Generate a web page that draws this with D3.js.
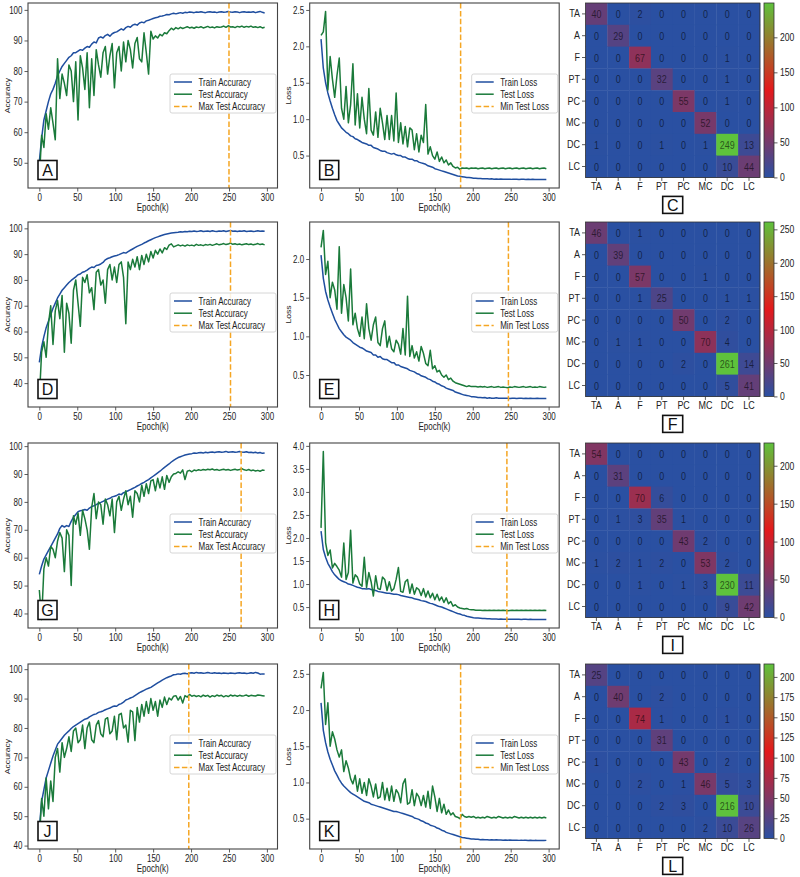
<!DOCTYPE html>
<html>
<head>
<meta charset="utf-8">
<script src="https://cdn.jsdelivr.net/npm/d3@7"></script>
<style>
  html, body { margin: 0; padding: 0; background: #fff; }
  svg { display: block; font-family: "Liberation Sans", Arial, sans-serif; }
</style>
</head>
<body>
<svg id="fig" width="800" height="877"></svg>
<script>
// ---- data (one value every 3 epochs) ----
const CLASSES = ['TA', 'A', 'F', 'PT', 'PC', 'MC', 'DC', 'LC'];
const EPOCH_LAST = 299;
const epochs = d3.range(0, 300, 3);
const X_TICKS = [0, 50, 100, 150, 200, 250, 300];

const maxAccEpoch = [250, 252, 266, 197];
const minLossEpoch = [184, 247, 245, 184];
const accLetters = ['A', 'D', 'G', 'J'];
const lossLetters = ['B', 'E', 'H', 'K'];
const cmLetters = ['C', 'F', 'I', 'L'];
const cbStep = [50, 50, 50, 25];

const acc1Train = [50.5, 58, 64, 67, 70, 72.5, 74, 76, 78.5, 80,
  81.5, 82.5, 83.5, 84.5, 85, 86, 86, 86.5, 87, 86.8,
  87.5, 88, 87.8, 88.8, 89.5, 89.2, 90.8, 91.2, 90.8, 91.6,
  92, 91.4, 92.2, 92.6, 92.8, 93.3, 93.8, 93.4, 94.2, 94.6,
  94.3, 95, 95.3, 95, 95.7, 96, 95.8, 96.4, 96.6, 96.9,
  97.2, 97.4, 97.6, 97.9, 98, 98.2, 98.5, 98.4, 98.7, 98.9,
  98.7, 98.9, 99.1, 98.9, 99.2, 99.1, 99.3, 99.2, 99.1, 99.3,
  99.2, 99.4, 99.2, 99.1, 99.3, 99.4, 99.2, 99.3, 99.1, 99.3,
  99.4, 99.2, 99.3, 99.5, 99.3, 99.2, 99.4, 99.3, 99.1, 99.3,
  99.4, 99.2, 99.3, 99.2, 99.4, 99.1, 99.3, 99.5, 99.2, 99.0];
const acc1Test = [44.5, 59, 55, 66, 61, 68, 63, 57.5, 84, 71,
  79, 76, 72, 82, 80, 70, 83, 64, 85, 81,
  74, 86, 68, 84, 72, 87, 82, 78, 86, 88,
  79, 85, 89, 74.5, 86, 88, 80, 89.5, 83, 90,
  87, 81, 89, 91, 84, 83, 92.5, 86, 79, 93,
  90.5, 91.5, 90.8, 92, 91.5, 92.5, 92.2, 93.2, 94, 93.5,
  94.2, 93.8, 94.3, 93.9, 94.2, 94.5, 94.1, 94.3, 94, 94.4,
  94.2, 94.5, 94.1, 94.3, 94.6, 94.2, 94.4, 94.1, 94.5, 94.3,
  94.4, 94.7, 94.3, 94.8, 94.4, 94.5, 94.2, 94.6, 94.4, 94.7,
  94.3, 94.6, 94.4, 94.7, 94.3, 94.5, 94.2, 94.5, 94.1, 94.3];
const loss1Train = [2.1, 1.7, 1.5, 1.36, 1.25, 1.15, 1.06, 0.98, 0.93, 0.88,
  0.85, 0.82, 0.8, 0.77, 0.76, 0.73, 0.72, 0.7, 0.68, 0.67,
  0.66, 0.64, 0.64, 0.61, 0.6, 0.59, 0.57, 0.56, 0.56, 0.54,
  0.53, 0.52, 0.53, 0.51, 0.5, 0.5, 0.48, 0.48, 0.46, 0.45,
  0.45, 0.43, 0.43, 0.41, 0.4, 0.39, 0.38, 0.36, 0.35, 0.34,
  0.32, 0.31, 0.3, 0.29, 0.28, 0.27, 0.26, 0.25, 0.24, 0.23,
  0.22, 0.215, 0.21, 0.205, 0.2, 0.2, 0.195, 0.19, 0.19, 0.185,
  0.185, 0.18, 0.18, 0.18, 0.178, 0.18, 0.176, 0.178, 0.175, 0.177,
  0.175, 0.176, 0.174, 0.176, 0.173, 0.175, 0.174, 0.172, 0.174, 0.173,
  0.172, 0.174, 0.171, 0.173, 0.172, 0.17, 0.172, 0.171, 0.17, 0.172];
const loss1Test = [2.15, 2.2, 2.48, 1.4, 1.86, 1.55, 1.3, 1.6, 1.84, 1.15,
  1.0, 1.45, 0.95, 1.2, 1.76, 0.92, 1.35, 0.88, 1.3, 1.0,
  0.8, 1.42, 0.85, 0.78, 1.1, 0.75, 1.15, 0.95, 0.72, 1.05,
  0.72, 1.05, 0.7, 1.36, 0.68, 0.95, 0.66, 0.9, 0.62, 0.88,
  0.85, 0.58, 0.8, 0.55, 0.78, 0.68, 1.2, 0.52, 0.62, 0.5,
  0.45, 0.55, 0.42, 0.48, 0.4, 0.44, 0.37, 0.4, 0.35, 0.33,
  0.34, 0.31, 0.33, 0.325, 0.33, 0.32, 0.33, 0.325, 0.33, 0.32,
  0.325, 0.33, 0.32, 0.325, 0.33, 0.32, 0.325, 0.33, 0.32, 0.325,
  0.33, 0.32, 0.325, 0.33, 0.32, 0.325, 0.33, 0.32, 0.325, 0.33,
  0.32, 0.325, 0.33, 0.32, 0.325, 0.33, 0.32, 0.325, 0.33, 0.32];

const acc2Train = [48, 54, 58, 61.5, 64, 66.5, 69, 71, 73, 74.5,
  76, 77, 78, 79, 79.8, 80.5, 81.2, 82, 82.3, 83,
  83.3, 83.8, 84.5, 85, 84.8, 85.6, 85.8, 86.2, 86.8, 87.8,
  88.3, 88.6, 89, 89.3, 89.5, 89.8, 90.2, 90.6, 90.4, 91,
  91.5, 92, 92.5, 93, 93.4, 93.8, 94.3, 94.7, 95.2, 95.6,
  96, 96.4, 96.7, 97, 97.3, 97.6, 97.8, 98, 98.2, 98.3,
  98.4, 98.5, 98.7, 98.6, 98.8, 98.7, 98.9, 98.8, 99, 98.8,
  98.9, 99.1, 98.8, 98.9, 99, 98.8, 99.1, 98.9, 98.8, 99,
  98.9, 99.1, 98.8, 99, 99.2, 98.9, 99, 98.8, 99, 98.9,
  99.1, 98.8, 98.9, 99, 98.8, 98.9, 99.1, 98.9, 99, 98.9];
const acc2Test = [34, 52, 56, 50, 63, 70, 55, 68, 72, 65,
  74, 52, 71, 67, 55.5, 76, 80, 71, 62, 81,
  79, 82, 75, 77, 68.5, 83, 84, 78, 80, 71,
  84, 86, 80, 85, 79, 86, 87, 81, 63, 87,
  84, 88, 85, 89, 84, 89.5, 86, 90, 87, 91,
  88.5, 91.5, 90, 92, 90.5, 92.5, 91.8, 93.5, 94, 92.8,
  93.2, 93.6, 93.2, 93.5, 93.1, 93.6, 93.3, 93.5, 93.2, 93.8,
  93.4, 93.6, 93.3, 93.7, 93.5, 93.8, 93.4, 93.7, 94, 93.6,
  93.8, 94.1, 93.7, 93.9, 94.3, 93.8, 94, 93.7, 93.9, 93.6,
  93.8, 94, 93.7, 93.9, 93.6, 93.8, 94.1, 93.7, 93.9, 93.6];
const loss2Train = [2.05, 1.75, 1.58, 1.47, 1.38, 1.3, 1.22, 1.16, 1.1, 1.06,
  1.02, 0.99, 0.97, 0.95, 0.92, 0.9, 0.88, 0.86, 0.85, 0.83,
  0.81, 0.8, 0.79, 0.76, 0.76, 0.73, 0.74, 0.71, 0.7, 0.7,
  0.68, 0.66, 0.66, 0.63, 0.63, 0.61, 0.6, 0.59, 0.58, 0.56,
  0.55, 0.54, 0.52, 0.51, 0.49, 0.48, 0.47, 0.45, 0.44, 0.42,
  0.41, 0.39, 0.38, 0.36, 0.35, 0.33, 0.32, 0.31, 0.3, 0.28,
  0.27, 0.26, 0.25, 0.24, 0.235, 0.23, 0.22, 0.22, 0.215, 0.21,
  0.21, 0.205, 0.21, 0.2, 0.205, 0.2, 0.2, 0.205, 0.2, 0.198,
  0.2, 0.198, 0.2, 0.197, 0.2, 0.198, 0.196, 0.198, 0.2, 0.197,
  0.198, 0.196, 0.198, 0.197, 0.195, 0.198, 0.196, 0.197, 0.195, 0.197];
const loss2Test = [2.15, 2.37, 1.8, 1.97, 1.5, 1.7, 1.6, 1.35, 2.16, 1.3,
  1.67, 1.5, 1.2, 1.87, 1.15, 1.3, 1.1, 1.0, 1.25, 0.97,
  1.42, 1.1, 0.95, 1.15, 1.25, 0.92, 0.88, 1.1, 1.2, 0.86,
  1.0, 0.84, 0.8, 0.95, 0.9, 0.77, 1.1, 0.76, 1.52, 0.74,
  0.88, 0.72, 0.8, 0.68, 0.87, 0.78, 0.65, 0.62, 0.82, 0.58,
  0.62, 0.54, 0.56, 0.5, 0.47, 0.5, 0.44, 0.46, 0.42, 0.4,
  0.39, 0.38, 0.37, 0.36, 0.35, 0.36, 0.35, 0.35, 0.35, 0.345,
  0.35, 0.345, 0.35, 0.34, 0.345, 0.35, 0.34, 0.345, 0.35, 0.34,
  0.345, 0.34, 0.335, 0.345, 0.34, 0.35, 0.345, 0.34, 0.345, 0.35,
  0.34, 0.345, 0.35, 0.34, 0.345, 0.34, 0.35, 0.345, 0.34, 0.345];

const acc3Train = [54, 57, 59.5, 61, 62.5, 64, 65.5, 67, 68.5, 70.5,
  71.5, 71, 71.5, 71.2, 73, 74.5, 75.5, 76.5, 76.8, 77,
  77.3, 77, 77.8, 78.3, 78.6, 79, 79.5, 79.8, 80.2, 80.6,
  81, 81.3, 81.8, 82, 82.3, 82.8, 82.6, 83.3, 83.6, 84,
  84.4, 84.8, 85.2, 85.7, 86.1, 86.6, 87, 87.5, 88, 88.6,
  89.2, 89.8, 90.4, 91, 91.7, 92.4, 93, 93.6, 94.3, 94.9,
  95.4, 95.9, 96.2, 96.5, 96.8, 97, 97.2, 97.3, 97.5, 97.4,
  97.6, 97.7, 97.5, 97.8, 97.6, 97.8, 97.9, 97.7, 97.9, 98,
  97.8, 97.9, 98.1, 97.8, 97.9, 98, 97.8, 97.9, 98.1, 97.9,
  97.8, 98, 97.7, 97.8, 97.6, 97.8, 97.5, 97.7, 97.4, 97.5];
const acc3Test = [48.4, 37.8, 56, 60, 57, 64, 63, 60, 66, 69,
  67, 55, 70, 68, 50, 75, 72, 76, 68, 77,
  74, 70, 63, 78, 83, 74, 80, 79, 72, 81,
  79, 75, 81, 69, 80, 82, 77, 81, 84, 79,
  82, 74.5, 84, 83, 80, 86, 82, 86.5, 83, 87.5,
  88, 84, 88.5, 85, 89, 84.5, 89.5, 87, 89, 90,
  90.2, 90.8, 90.3, 91.5, 88, 91, 91.3, 90.8, 91.4, 91.2,
  91.5, 91.3, 91.6, 91.4, 91.7, 91.5, 91.8, 91.4, 91.6, 91.3,
  91.5, 91.7, 91.4, 91.6, 91.3, 91.5, 91.7, 91.4, 91.6, 91.9,
  91.5, 91.3, 91.6, 91.2, 91.4, 91.1, 91.3, 91.0, 91.4, 91.3];
const loss3Train = [2.15, 1.75, 1.58, 1.45, 1.36, 1.27, 1.2, 1.15, 1.1, 1.07,
  1.05, 1.03, 1.0, 0.99, 0.97, 0.95, 0.93, 0.92, 0.9, 0.9,
  0.89, 0.9, 0.88, 0.87, 0.86, 0.84, 0.83, 0.82, 0.81, 0.8,
  0.8, 0.79, 0.78, 0.78, 0.77, 0.75, 0.74, 0.73, 0.72, 0.71,
  0.7, 0.68, 0.67, 0.66, 0.64, 0.63, 0.62, 0.6, 0.58, 0.57,
  0.55, 0.53, 0.51, 0.5, 0.48, 0.46, 0.44, 0.42, 0.4, 0.38,
  0.36, 0.35, 0.33, 0.32, 0.3, 0.29, 0.28, 0.27, 0.265, 0.26,
  0.255, 0.25, 0.25, 0.245, 0.245, 0.24, 0.24, 0.242, 0.238, 0.24,
  0.236, 0.238, 0.235, 0.237, 0.234, 0.236, 0.233, 0.235, 0.232, 0.234,
  0.233, 0.231, 0.233, 0.23, 0.232, 0.23, 0.231, 0.229, 0.23, 0.228];
const loss3Test = [2.22, 3.88, 1.9, 1.62, 1.74, 1.35, 1.45, 1.38, 1.3, 1.15,
  1.89, 1.1, 1.25, 2.17, 1.02, 1.2, 1.15, 1.0, 0.95, 1.58,
  0.92, 1.25, 1.05, 0.74, 1.18, 0.9, 0.88, 1.15, 1.1, 0.86,
  1.05, 0.85, 0.9, 1.1, 1.36, 0.84, 0.82, 1.05, 1.1, 0.8,
  1.0, 0.78, 0.92, 0.88, 0.75, 0.9, 0.72, 0.85, 0.7, 0.8,
  0.66, 0.78, 0.64, 0.72, 0.6, 0.7, 0.57, 0.62, 0.52, 0.55,
  0.5, 0.48, 0.47, 0.46, 0.47, 0.45, 0.44, 0.44, 0.43, 0.43,
  0.43, 0.425, 0.43, 0.425, 0.43, 0.425, 0.43, 0.425, 0.43, 0.425,
  0.43, 0.425, 0.42, 0.425, 0.43, 0.425, 0.43, 0.425, 0.43, 0.425,
  0.43, 0.425, 0.43, 0.425, 0.43, 0.425, 0.43, 0.425, 0.43, 0.425];

const acc4Train = [46, 55, 59, 63, 65.5, 68, 70.5, 72.5, 74.5, 75.5,
  76.5, 77.5, 78.3, 79, 79.8, 80.5, 81, 81.5, 82, 82.5,
  83, 83.2, 83.8, 84.2, 84.6, 84.8, 85.3, 85.5, 85.8, 86.2,
  86.5, 86.8, 87.2, 87.5, 87.4, 88, 88.3, 88.8, 89.5, 89.8,
  90.2, 90.5, 91, 91.5, 92, 92.4, 92.8, 93.2, 93.5, 93.8,
  94.3, 94.8, 95.3, 95.8, 96.3, 96.7, 97.1, 97.4, 97.7, 98.1,
  98.2, 98.4, 98.3, 98.5, 98.6, 98.4, 98.7, 98.8, 98.6, 98.9,
  98.7, 98.8, 98.6, 98.7, 98.9, 98.7, 98.6, 98.8, 98.6, 98.7,
  98.5, 98.7, 98.6, 98.5, 98.7, 98.6, 98.5, 98.7, 98.8, 98.6,
  98.7, 98.5, 98.6, 98.8, 98.6, 98.9, 98.7, 98.3, 98.4, 98.4];
const acc4Test = [41.7, 56, 50, 63, 52.5, 62, 55, 70, 73, 65,
  75, 70, 73, 77, 72, 79, 80, 75, 76, 81,
  73, 80, 82, 76, 75, 81, 82.5, 78, 77, 83,
  83.5, 78, 79, 84, 76, 84.5, 85, 80, 81, 75.2,
  86, 85.5, 75.7, 87, 82, 88, 84, 89, 85, 90,
  86, 89, 84, 89.5, 87, 90.5, 88, 90.2, 89.5, 90.8,
  91, 89.5, 90.7, 88.5, 91, 90.5, 91.4, 90.8, 91.1, 90.7,
  91, 90.6, 91.2, 90.8, 91.1, 90.5, 91, 90.7, 91.2, 90.9,
  91.1, 90.6, 91, 90.7, 91.2, 90.9, 91.1, 90.8, 91.1, 90.9,
  91, 91.2, 90.8, 91.1, 91, 90.9, 91.2, 91.1, 91, 90.9];
const loss4Train = [2.1, 1.72, 1.55, 1.42, 1.32, 1.24, 1.16, 1.1, 1.04, 0.99,
  0.95, 0.92, 0.89, 0.86, 0.84, 0.82, 0.8, 0.78, 0.76, 0.74,
  0.73, 0.72, 0.7, 0.69, 0.68, 0.67, 0.66, 0.65, 0.64, 0.63,
  0.62, 0.61, 0.6, 0.6, 0.59, 0.58, 0.57, 0.56, 0.55, 0.54,
  0.53, 0.51, 0.5, 0.49, 0.47, 0.46, 0.44, 0.43, 0.41, 0.4,
  0.39, 0.37, 0.36, 0.34, 0.33, 0.31, 0.3, 0.29, 0.28, 0.27,
  0.26, 0.25, 0.24, 0.235, 0.23, 0.225, 0.22, 0.22, 0.215, 0.215,
  0.21, 0.212, 0.208, 0.21, 0.206, 0.208, 0.205, 0.207, 0.204, 0.206,
  0.203, 0.205, 0.202, 0.204, 0.203, 0.201, 0.203, 0.2, 0.202, 0.2,
  0.201, 0.199, 0.201, 0.198, 0.2, 0.199, 0.197, 0.199, 0.198, 0.2];
const loss4Test = [2.3, 2.52, 1.8, 2.1, 1.5, 1.7, 1.6, 1.45, 1.35, 1.45,
  1.15, 1.3, 1.2, 1.05, 0.98, 1.1, 0.88, 1.05, 0.85, 1.0,
  0.82, 1.05, 0.95, 0.8, 0.98, 0.78, 0.8, 1.0, 0.76, 0.92,
  0.75, 0.95, 0.74, 0.9, 0.85, 0.72, 0.98, 1.05, 0.7, 0.72,
  0.9, 0.68, 0.85, 0.8, 0.68, 0.82, 0.66, 0.88, 0.64, 0.95,
  0.8, 0.6, 0.78, 0.58, 0.7, 0.56, 0.62, 0.55, 0.58, 0.53,
  0.52, 0.5, 0.56, 0.53, 0.52, 0.53, 0.52, 0.53, 0.51, 0.52,
  0.51, 0.52, 0.51, 0.53, 0.52, 0.51, 0.52, 0.51, 0.53, 0.52,
  0.51, 0.52, 0.51, 0.52, 0.51, 0.53, 0.52, 0.51, 0.52, 0.51,
  0.52, 0.51, 0.52, 0.51, 0.52, 0.51, 0.52, 0.51, 0.52, 0.51];

const cm1 = [
  [40, 0, 2, 0, 0, 0, 0, 0],
  [0, 29, 0, 0, 0, 0, 0, 0],
  [0, 0, 67, 0, 0, 0, 1, 0],
  [0, 0, 0, 32, 0, 0, 1, 0],
  [0, 0, 0, 0, 55, 0, 1, 0],
  [0, 0, 0, 0, 0, 52, 0, 0],
  [1, 0, 0, 1, 0, 1, 249, 13],
  [0, 0, 0, 0, 0, 0, 10, 44]];
const cm2 = [
  [46, 0, 1, 0, 0, 0, 0, 0],
  [0, 39, 0, 0, 0, 0, 0, 0],
  [0, 0, 57, 0, 0, 1, 0, 0],
  [0, 0, 1, 25, 0, 0, 1, 1],
  [0, 0, 0, 0, 50, 0, 2, 0],
  [0, 1, 1, 0, 0, 70, 4, 0],
  [0, 0, 0, 0, 2, 0, 261, 14],
  [0, 0, 0, 0, 0, 0, 5, 41]];
const cm3 = [
  [54, 0, 0, 0, 0, 0, 0, 0],
  [0, 31, 0, 0, 0, 0, 0, 0],
  [0, 0, 70, 6, 0, 0, 0, 0],
  [0, 1, 3, 35, 1, 0, 0, 0],
  [0, 0, 0, 0, 43, 2, 0, 0],
  [1, 2, 1, 2, 0, 53, 2, 0],
  [0, 0, 1, 0, 1, 3, 230, 11],
  [0, 0, 0, 0, 0, 0, 9, 42]];
const cm4 = [
  [25, 0, 0, 0, 0, 0, 0, 0],
  [0, 40, 0, 2, 0, 0, 0, 0],
  [0, 0, 74, 1, 0, 0, 1, 0],
  [0, 0, 0, 31, 0, 0, 0, 0],
  [1, 0, 0, 0, 43, 0, 2, 0],
  [0, 0, 2, 0, 1, 46, 5, 3],
  [0, 0, 0, 2, 3, 0, 216, 10],
  [0, 0, 0, 0, 0, 2, 10, 26]];

// ---- layout / style ----
const ROW_TOP = [3, 222, 443, 664];
const PLOT_H = 185, PLOT_W = 249.5;
const ACC_X = 28, LOSS_X = 309.7;
const CM_X = 585.5, CELL = 21.8, CB_X = 764, CB_W = 10;
const TRAIN_C = '#1f4e9f', TEST_C = '#1a7a3a', MARK_C = '#f5a623';
const CMAP = ['#2a50a2', '#e3191c', '#5ec23c'];
const SQ = 0.8;       // text in the figure is horizontally narrow
const TICK = 3.5;

const svg = d3.select('#fig');
svg.append('rect').attr('width', 800).attr('height', 877).attr('fill', '#fff');

function putText(parent, x, y, str, size, anchor) {
  return parent.append('text')
    .attr('transform', `translate(${x},${y}) scale(${SQ},1)`)
    .attr('text-anchor', anchor || 'start')
    .attr('font-size', size)
    .attr('fill', '#222')
    .text(str);
}

function styleAxis(sel, orient, size) {
  sel.attr('font-family', null).attr('font-size', null);
  sel.select('.domain').remove();
  sel.selectAll('.tick line').attr('stroke', '#333').attr('stroke-width', 0.8);
  const t = sel.selectAll('.tick text')
    .attr('fill', '#222').attr('font-size', size)
    .attr('transform', `scale(${SQ},1)`);
  if (orient === 'left') t.attr('x', -(TICK + 2) / SQ);
  if (orient === 'right') t.attr('x', (TICK + 2.5) / SQ);
}

function letterBox(parent, cx, cy, w, h, letter) {
  const b = parent.append('g').attr('transform', `translate(${cx},${cy})`);
  b.append('rect').attr('x', -w / 2).attr('y', -h / 2).attr('width', w).attr('height', h)
    .attr('fill', '#fff').attr('stroke', '#111').attr('stroke-width', 1.6);
  b.append('text').attr('text-anchor', 'middle').attr('y', 5.8)
    .attr('font-size', 16).attr('fill', '#111').text(letter);
}

function drawCurves(o) {
  const g = svg.append('g').attr('transform', `translate(${o.x},${o.y})`);
  const x = d3.scaleLinear()
    .domain([-0.05 * EPOCH_LAST, 1.05 * EPOCH_LAST]).range([0, PLOT_W]);
  const all = o.train.concat(o.test);
  const lo = d3.min(all), hi = d3.max(all), pad = (hi - lo) * 0.05;
  const y = d3.scaleLinear().domain([lo - pad, hi + pad]).range([PLOT_H, 0]);
  const line = d3.line().x((d, i) => x(epochs[i])).y((d) => y(d));

  g.append('path').datum(o.train).attr('d', line).attr('fill', 'none')
    .attr('stroke', TRAIN_C).attr('stroke-width', 1.5).attr('stroke-linejoin', 'round');
  g.append('path').datum(o.test).attr('d', line).attr('fill', 'none')
    .attr('stroke', TEST_C).attr('stroke-width', 1.5).attr('stroke-linejoin', 'round');
  g.append('line').attr('x1', x(o.mark)).attr('x2', x(o.mark)).attr('y1', 0).attr('y2', PLOT_H)
    .attr('stroke', MARK_C).attr('stroke-width', 1.5).attr('stroke-dasharray', '5.5,2.4');

  const [d0, d1] = y.domain();
  const yTicks = d3.range(Math.ceil(d0 / o.step) * o.step, d1, o.step);
  const gy = g.append('g').call(d3.axisLeft(y).tickValues(yTicks).tickFormat(o.fmt)
    .tickSize(TICK).tickPadding(2));
  styleAxis(gy, 'left', 10);
  const gx = g.append('g').attr('transform', `translate(0,${PLOT_H})`)
    .call(d3.axisBottom(x).tickValues(X_TICKS).tickSize(TICK).tickPadding(2));
  styleAxis(gx, 'bottom', 10);

  g.append('rect').attr('width', PLOT_W).attr('height', PLOT_H)
    .attr('fill', 'none').attr('stroke', '#444').attr('stroke-width', 1.1);

  putText(g, PLOT_W / 2, PLOT_H + 22.5, 'Epoch(k)', 10, 'middle');
  g.append('text')
    .attr('transform', `translate(-18.5,${PLOT_H / 2}) rotate(-90) scale(1,${SQ})`)
    .attr('text-anchor', 'middle').attr('font-size', 8.6).attr('fill', '#222')
    .text(o.ylabel);

  // legend, centre right
  const lg = g.append('g').attr('transform', `translate(${PLOT_W - 1.5 - o.legendW},71)`);
  lg.append('rect').attr('width', o.legendW).attr('height', 39).attr('rx', 2)
    .attr('fill', '#fff').attr('fill-opacity', 0.85).attr('stroke', '#ccc').attr('stroke-width', 0.8);
  const items = [
    { c: TRAIN_C, dash: null },
    { c: TEST_C, dash: null },
    { c: MARK_C, dash: '5.5,2.4' },
  ];
  items.forEach((it, i) => {
    const cy = 8 + i * 12.2;
    lg.append('line').attr('x1', 4).attr('x2', 22).attr('y1', cy).attr('y2', cy)
      .attr('stroke', it.c).attr('stroke-width', 1.5).attr('stroke-dasharray', it.dash);
    putText(lg, 28.5, cy + 3.5, o.names[i], 10);
  });

  letterBox(g, 19.5, PLOT_H - 18, 19, 19, o.letter);
}

function drawMatrix(o) {
  const n = CLASSES.length, size = CELL * n;
  const g = svg.append('g').attr('transform', `translate(${CM_X},${o.y})`);
  const xb = d3.scaleBand().domain(CLASSES).range([0, size]);
  const yb = d3.scaleBand().domain(CLASSES).range([0, size]);
  const vmax = d3.max(o.cm.flat());
  const color = d3.scaleLinear().domain([0, vmax / 2, vmax]).range(CMAP);
  const cells = o.cm.flatMap((row, i) => row.map((v, j) => ({ r: CLASSES[i], c: CLASSES[j], v })));

  g.selectAll('rect.cell').data(cells).join('rect').attr('class', 'cell')
    .attr('x', (d) => xb(d.c)).attr('y', (d) => yb(d.r))
    .attr('width', xb.bandwidth() + 0.4).attr('height', yb.bandwidth() + 0.4)
    .attr('fill', (d) => color(d.v));
  g.selectAll('text.val').data(cells).join('text').attr('class', 'val')
    .attr('transform', (d) => `translate(${xb(d.c) + xb.bandwidth() / 2},${yb(d.r) + yb.bandwidth() / 2 + 4}) scale(${SQ},1)`)
    .attr('text-anchor', 'middle').attr('font-size', 11.2)
    .attr('fill', '#000').attr('fill-opacity', 0.58)
    .text((d) => d.v);
  g.append('rect').attr('width', size).attr('height', size)
    .attr('fill', 'none').attr('stroke', '#333').attr('stroke-width', 0.8);

  const gl = g.append('g').call(d3.axisLeft(yb).tickSize(TICK).tickPadding(2));
  styleAxis(gl, 'left', 11.2);
  const gb = g.append('g').attr('transform', `translate(0,${size})`)
    .call(d3.axisBottom(xb).tickSize(TICK).tickPadding(1.5));
  styleAxis(gb, 'bottom', 11.2);

  // colour bar
  const gid = `cbar${o.id}`;
  const grad = svg.append('defs').append('linearGradient').attr('id', gid)
    .attr('x1', 0).attr('y1', 1).attr('x2', 0).attr('y2', 0);
  [0, 0.5, 1].forEach((t, i) => grad.append('stop').attr('offset', t).attr('stop-color', CMAP[i]));
  const cb = g.append('g').attr('transform', `translate(${CB_X - CM_X},0)`);
  cb.append('rect').attr('width', CB_W).attr('height', size).attr('fill', `url(#${gid})`)
    .attr('stroke', '#333').attr('stroke-width', 0.8);
  const cs = d3.scaleLinear().domain([0, vmax]).range([size, 0]);
  const gc = cb.append('g').attr('transform', `translate(${CB_W},0)`)
    .call(d3.axisRight(cs).tickValues(d3.range(0, vmax + 1, o.step)).tickSize(TICK));
  styleAxis(gc, 'right', 10.8);

  letterBox(g, size / 2, size + 27.5, 20, 17, o.letter);
}

const rows = [
  { accTrain: acc1Train, accTest: acc1Test, lossTrain: loss1Train, lossTest: loss1Test, cm: cm1 },
  { accTrain: acc2Train, accTest: acc2Test, lossTrain: loss2Train, lossTest: loss2Test, cm: cm2 },
  { accTrain: acc3Train, accTest: acc3Test, lossTrain: loss3Train, lossTest: loss3Test, cm: cm3 },
  { accTrain: acc4Train, accTest: acc4Test, lossTrain: loss4Train, lossTest: loss4Test, cm: cm4 },
];

rows.forEach((r, i) => {
  drawCurves({
    x: ACC_X, y: ROW_TOP[i], train: r.accTrain, test: r.accTest, mark: maxAccEpoch[i],
    step: 10, fmt: d3.format('d'), ylabel: 'Accuracy', legendW: 106,
    names: ['Train Accuracy', 'Test Accuracy', 'Max Test Accuracy'], letter: accLetters[i],
  });
  drawCurves({
    x: LOSS_X, y: ROW_TOP[i], train: r.lossTrain, test: r.lossTest, mark: minLossEpoch[i],
    step: 0.5, fmt: d3.format('.1f'), ylabel: 'Loss', legendW: 86,
    names: ['Train Loss', 'Test Loss', 'Min Test Loss'], letter: lossLetters[i],
  });
  drawMatrix({ y: ROW_TOP[i], cm: r.cm, step: cbStep[i], letter: cmLetters[i], id: i });
});
</script>
</body>
</html>
